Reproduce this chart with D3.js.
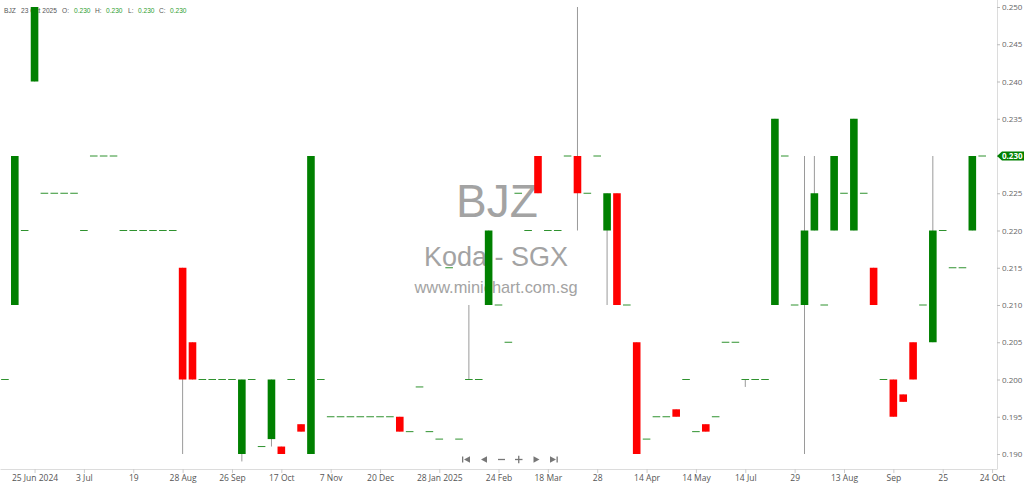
<!DOCTYPE html>
<html>
<head>
<meta charset="utf-8">
<script src="https://cdn.jsdelivr.net/npm/d3@7"></script>
<style>
  html, body { margin: 0; padding: 0; background: #fff; }
  svg { display: block; font-family: "Liberation Sans", Arial, sans-serif; }
</style>
</head>
<body>
<div id="chart"></div>
<script>
// one slot per trading bar (slot 0 .. 99)
const opens = [
  .200, .210, .220, .240, .225, .225, .225, .225, .220, .230,
  .230, .230, .220, .220, .220, .220, .220, .220, .215, .205,
  .200, .200, .200, .200, .190, .200, .191, .192, .191, .200,
  .194, .190, .200, .195, .195, .195, .195, .195, .195, .195,
  .195, .193, .199, .193, .192, .215, .192, .200, .200, .210,
  .210, .205, .225, .220, .230, .220, .220, .230, .230, .225,
  .230, .220, .225, .210, .205, .192, .195, .195, .196, .200,
  .193, .194, .195, .205, .205, .200, .200, .200, .210, .230,
  .210, .210, .220, .210, .220, .225, .220, .225, .215, .200,
  .200, .198, .205, .210, .205, .220, .215, .215, .220, .230
];
const highs = [
  .200, .230, .220, .250, .225, .225, .225, .225, .220, .230,
  .230, .230, .220, .220, .220, .220, .220, .220, .215, .205,
  .200, .200, .200, .200, .200, .200, .191, .200, .191, .200,
  .194, .230, .200, .195, .195, .195, .195, .195, .195, .195,
  .195, .193, .199, .193, .192, .215, .192, .210, .200, .220,
  .210, .205, .225, .220, .230, .220, .220, .230, .250, .225,
  .230, .225, .225, .210, .205, .192, .195, .195, .196, .200,
  .193, .194, .195, .205, .205, .200, .200, .200, .235, .230,
  .210, .230, .230, .210, .230, .225, .235, .225, .215, .200,
  .200, .198, .205, .210, .230, .220, .215, .215, .230, .230
];
const lows = [
  .200, .210, .220, .240, .225, .225, .225, .225, .220, .230,
  .230, .230, .220, .220, .220, .220, .220, .220, .190, .200,
  .200, .200, .200, .200, .189, .200, .191, .191, .190, .200,
  .193, .190, .200, .195, .195, .195, .195, .195, .195, .195,
  .193, .193, .199, .193, .192, .215, .192, .200, .200, .210,
  .210, .205, .225, .220, .225, .220, .220, .230, .220, .225,
  .230, .210, .210, .210, .190, .192, .195, .195, .195, .200,
  .193, .193, .195, .205, .205, .199, .200, .200, .210, .230,
  .210, .190, .220, .210, .220, .225, .220, .225, .210, .200,
  .195, .197, .200, .210, .205, .220, .215, .215, .220, .230
];
const closes = [
  .200, .230, .220, .250, .225, .225, .225, .225, .220, .230,
  .230, .230, .220, .220, .220, .220, .220, .220, .200, .200,
  .200, .200, .200, .200, .200, .200, .191, .200, .190, .200,
  .193, .230, .200, .195, .195, .195, .195, .195, .195, .195,
  .193, .193, .199, .193, .192, .215, .192, .200, .200, .220,
  .210, .205, .225, .220, .225, .220, .220, .230, .225, .225,
  .230, .225, .210, .210, .190, .192, .195, .195, .195, .200,
  .193, .193, .195, .205, .205, .200, .200, .200, .235, .230,
  .210, .220, .225, .210, .230, .225, .235, .225, .210, .200,
  .195, .197, .200, .210, .220, .220, .215, .215, .230, .230
];

const tickSlots  = [3, 8, 13, 18, 23, 28, 33, 38, 44, 50, 55, 60, 65, 70, 75, 80, 85, 90, 95, 100];
const tickLabels = ["25 Jun 2024", "3 Jul", "19", "28 Aug", "26 Sep", "17 Oct", "7 Nov", "20 Dec",
                    "28 Jan 2025", "24 Feb", "18 Mar", "28", "14 Apr", "14 May", "14 Jul", "29",
                    "13 Aug", "Sep", "25", "24 Oct"];
const priceTicks = [0.190, 0.195, 0.200, 0.205, 0.210, 0.215, 0.220, 0.225,
                    0.230, 0.235, 0.240, 0.245, 0.250];

const symbol = "BJZ", company = "Koda - SGX", site = "www.minichart.com.sg", lastDate = "23 Oct 2025";

const width = 1024, height = 484;
const plotRight = 997, axisY = 469;
const up = "#008000", down = "#ff0000", wick = "#9a9a9a", doji = "#2f922f";
const fmt = d3.format(".3f");

const bars = opens.map((o, i) => ({ i: i, o: o, h: highs[i], l: lows[i], c: closes[i] }));
const last = bars[bars.length - 1];

const x = d3.scaleLinear().domain([-0.5, 100.5]).range([0, plotRight]);
const y = d3.scaleLinear().domain([0.190, 0.250]).range([454, 7]);
const bw = 7.6;

const svg = d3.select("#chart").append("svg")
    .attr("width", width)
    .attr("height", height);

svg.append("rect").attr("width", width).attr("height", height).attr("fill", "#fff");

/* watermark */
const wm = svg.append("g").attr("fill", "#a3a3a3").attr("text-anchor", "middle");
wm.append("text").attr("x", 497).attr("y", 217).style("font-size", "46px").text(symbol);
wm.append("text").attr("x", 496).attr("y", 266).style("font-size", "27px").text(company);
wm.append("text").attr("x", 496).attr("y", 292.5).style("font-size", "16.4px").text(site);

/* header readout (sits under the candles, as in the original) */
const head = svg.append("g").style("font-size", "6.6px");
const headItems = [
  { x: 4,   t: symbol,       c: "#555" },
  { x: 21,  t: lastDate,     c: "#555" },
  { x: 62,  t: "O:",         c: "#555" },
  { x: 74,  t: fmt(last.o),  c: "#2e9e2e" },
  { x: 95,  t: "H:",         c: "#555" },
  { x: 106, t: fmt(last.h),  c: "#2e9e2e" },
  { x: 128, t: "L:",         c: "#555" },
  { x: 138, t: fmt(last.l),  c: "#2e9e2e" },
  { x: 159, t: "C:",         c: "#555" },
  { x: 170, t: fmt(last.c),  c: "#2e9e2e" }
];
head.selectAll("text").data(headItems).enter().append("text")
    .attr("x", d => d.x).attr("y", 12.5)
    .attr("fill", d => d.c)
    .text(d => d.t);

/* candles */
const g = svg.append("g");

g.selectAll("line.wick")
    .data(bars.filter(d => d.h > d.l))
    .enter().append("line")
    .attr("class", "wick")
    .attr("x1", d => x(d.i)).attr("x2", d => x(d.i))
    .attr("y1", d => y(d.h)).attr("y2", d => y(d.l))
    .attr("stroke", wick).attr("stroke-width", 1);

g.selectAll("rect.body")
    .data(bars.filter(d => d.o !== d.c))
    .enter().append("rect")
    .attr("class", "body")
    .attr("x", d => x(d.i) - bw / 2)
    .attr("width", bw)
    .attr("y", d => y(Math.max(d.o, d.c)))
    .attr("height", d => Math.abs(y(d.o) - y(d.c)))
    .attr("fill", d => d.c > d.o ? up : down);

g.selectAll("line.doji")
    .data(bars.filter(d => d.o === d.c))
    .enter().append("line")
    .attr("class", "doji")
    .attr("x1", d => x(d.i) - bw / 2).attr("x2", d => x(d.i) + bw / 2)
    .attr("y1", d => y(d.c)).attr("y2", d => y(d.c))
    .attr("stroke", doji).attr("stroke-width", 1);

/* axes */
svg.append("line")
    .attr("x1", plotRight + 0.5).attr("x2", plotRight + 0.5)
    .attr("y1", 0).attr("y2", axisY)
    .attr("stroke", "#dcdcdc");

const yAxis = svg.append("g")
    .attr("transform", "translate(" + plotRight + ",0)")
    .call(d3.axisRight(y).tickValues(priceTicks).tickFormat(fmt).tickSize(3).tickPadding(2));
yAxis.select(".domain").remove();
yAxis.selectAll(".tick line").attr("stroke", "#bbb");
yAxis.selectAll(".tick text").attr("fill", "#666").style("font-size", "8px")
    .style("font-family", "'Open Sans', 'Liberation Sans', sans-serif");

const xAxis = svg.append("g")
    .attr("transform", "translate(0," + axisY + ")")
    .call(d3.axisBottom(x).tickValues(tickSlots)
        .tickFormat((d, k) => tickLabels[k])
        .tickSize(4).tickSizeOuter(0).tickPadding(2));
xAxis.select(".domain").attr("stroke", "#dcdcdc");
xAxis.selectAll(".tick line").attr("stroke", "#ccc");
xAxis.selectAll(".tick text").attr("fill", "#555").style("font-size", "8.5px")
    .style("font-family", "'Open Sans', 'Liberation Sans', sans-serif");

/* last price tag */
const ly = y(last.c);
svg.append("path")
    .attr("d", "M" + plotRight + "," + ly + "L" + (plotRight + 5) + "," + (ly - 4.5) +
               "L" + width + "," + (ly - 4.5) + "L" + width + "," + (ly + 4.5) +
               "L" + (plotRight + 5) + "," + (ly + 4.5) + "Z")
    .attr("fill", up);
svg.append("text")
    .attr("x", plotRight + 5).attr("y", ly).attr("dy", "0.35em")
    .attr("fill", "#fff").style("font-size", "8px").style("font-weight", "bold")
    .style("font-family", "'Open Sans', 'Liberation Sans', sans-serif")
    .text(fmt(last.c));

/* navigation buttons */
const nav = svg.append("g").attr("fill", "#777").attr("stroke", "#777");
const ny = 459.5;
nav.append("rect").attr("x", 462).attr("y", ny - 3).attr("width", 1.3).attr("height", 6).attr("stroke", "none");
nav.append("path").attr("d", "M464," + ny + "L470," + (ny - 3.2) + "L470," + (ny + 3.2) + "Z").attr("stroke", "none");
nav.append("path").attr("d", "M481," + ny + "L487," + (ny - 3.2) + "L487," + (ny + 3.2) + "Z").attr("stroke", "none");
nav.append("line").attr("x1", 498).attr("x2", 505).attr("y1", ny).attr("y2", ny).attr("stroke-width", 1.3);
nav.append("line").attr("x1", 515).attr("x2", 522.5).attr("y1", ny).attr("y2", ny).attr("stroke-width", 1.3);
nav.append("line").attr("x1", 518.75).attr("x2", 518.75).attr("y1", ny - 3.7).attr("y2", ny + 3.7).attr("stroke-width", 1.3);
nav.append("path").attr("d", "M539.5," + ny + "L533.5," + (ny - 3.2) + "L533.5," + (ny + 3.2) + "Z").attr("stroke", "none");
nav.append("path").attr("d", "M556," + ny + "L550," + (ny - 3.2) + "L550," + (ny + 3.2) + "Z").attr("stroke", "none");
nav.append("rect").attr("x", 556.5).attr("y", ny - 3).attr("width", 1.3).attr("height", 6).attr("stroke", "none");
</script>
</body>
</html>
